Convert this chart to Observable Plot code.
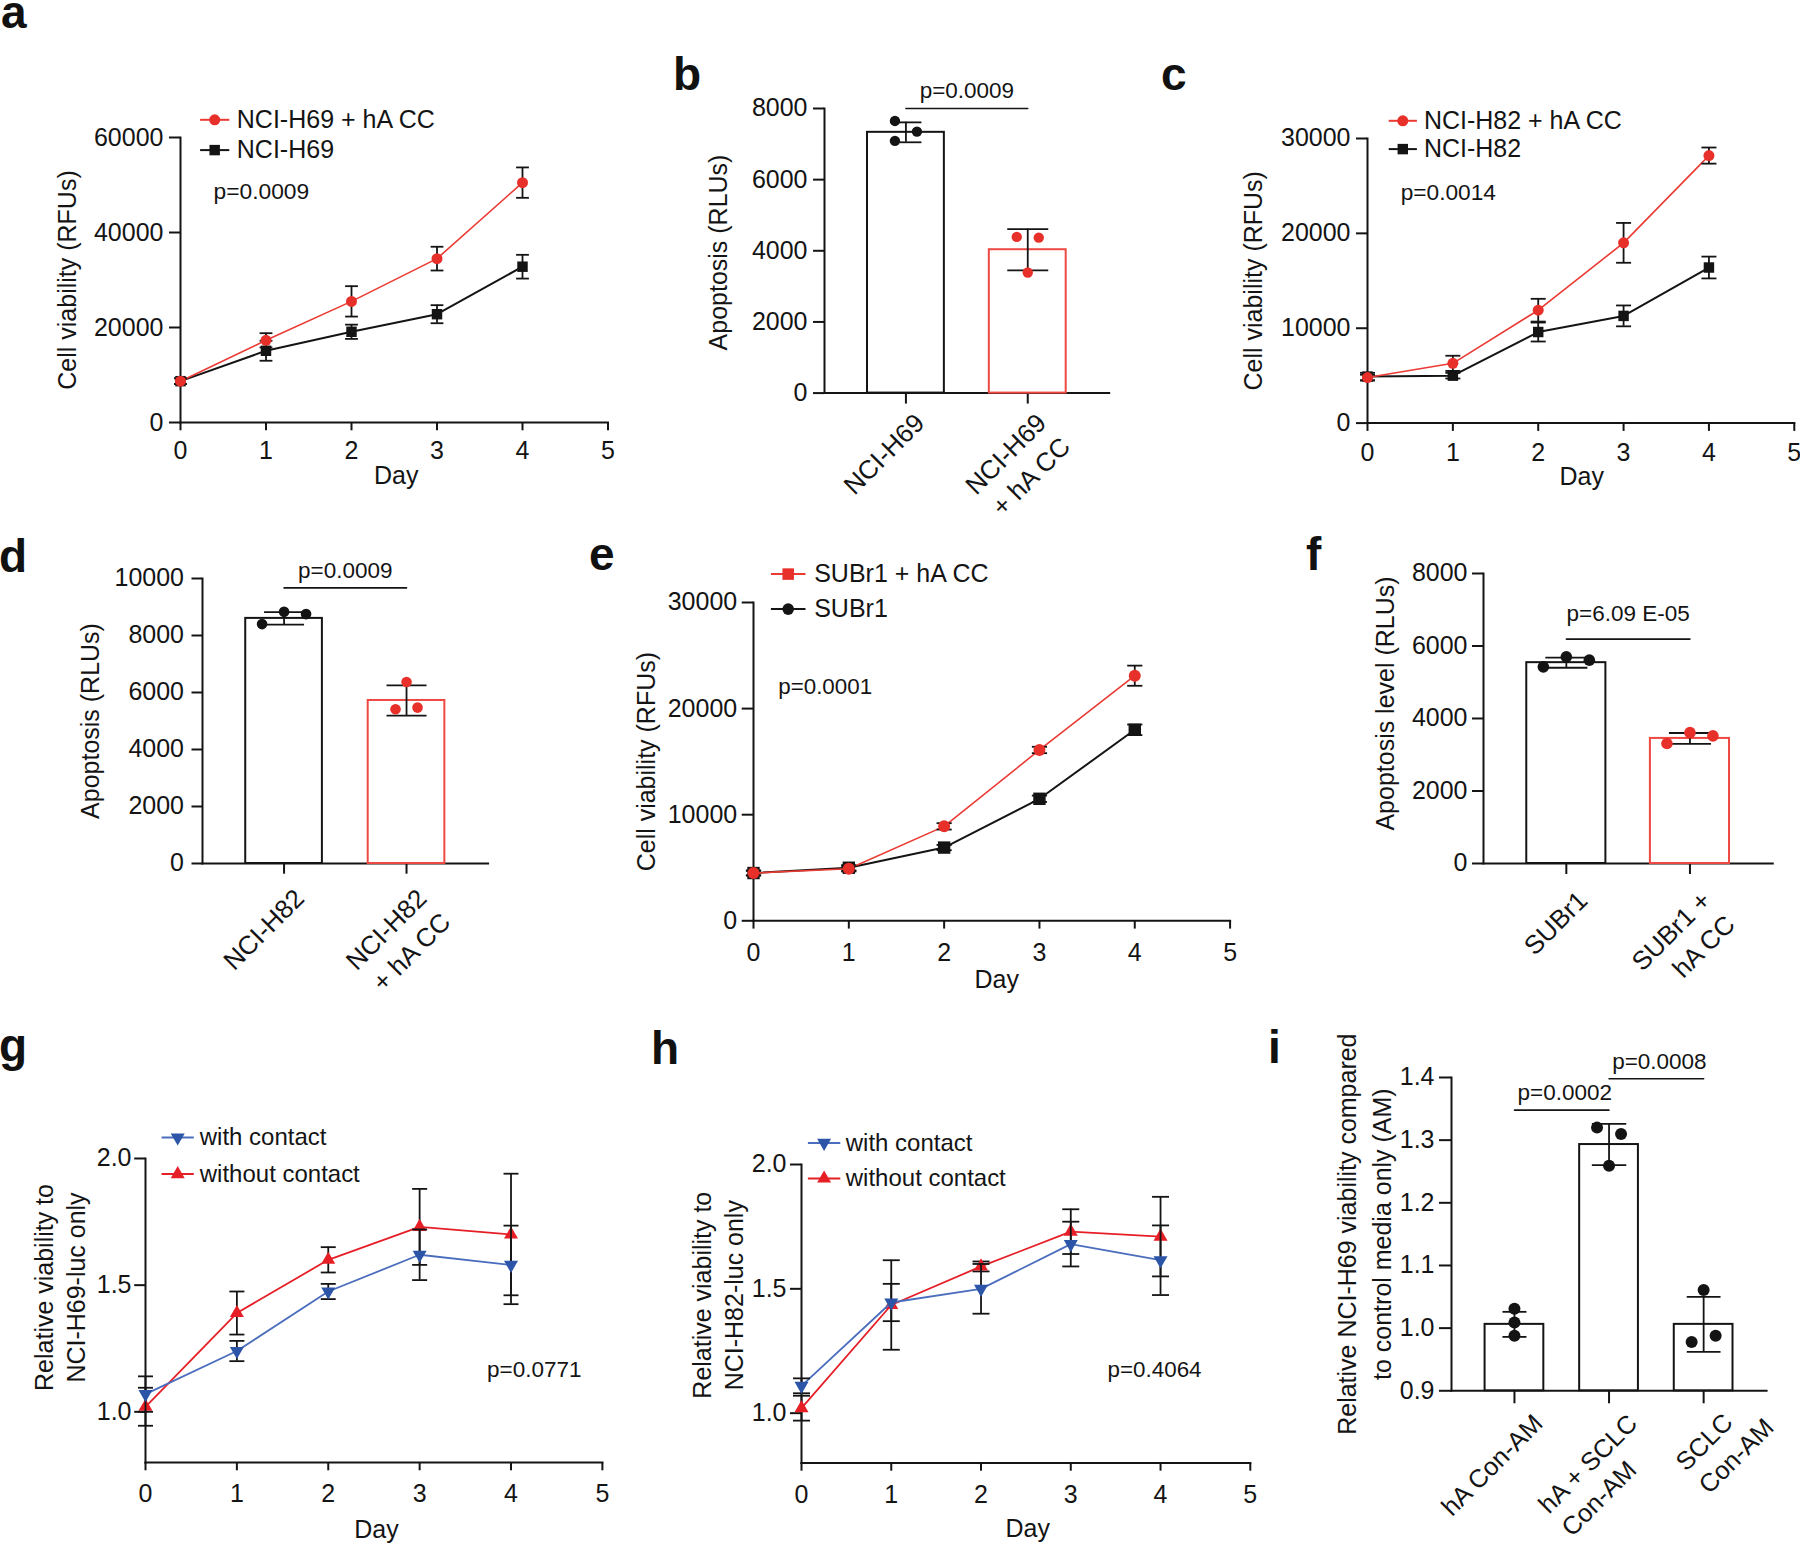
<!DOCTYPE html>
<html>
<head>
<meta charset="utf-8">
<script src="https://cdn.jsdelivr.net/npm/d3@7"></script>
<script src="https://cdn.jsdelivr.net/npm/@observablehq/plot@0.6"></script>
<style>
  html, body { margin: 0; padding: 0; background: #fff; }
  #fig { position: relative; width: 1800px; height: 1544px; overflow: hidden; background: #fff; }
  #fig svg { position: absolute; overflow: visible; max-width: none; }
  .plabel { position: absolute; font: bold 46px "Liberation Sans", Arial, sans-serif; line-height: 24px; color: #111; }
</style>
</head>
<body>
<div id="fig"></div>
<script>
// ================= DATA =================
const days = [0, 1, 2, 3, 4];
const dayTicks = [0, 1, 2, 3, 4, 5];
const dayLabel = "Day";

// ---- panel a ----
const aNames = ["NCI-H69 + hA CC", "NCI-H69"];
const aRed = [8700, 17300, 25500, 34500, 50500];
const aRedSD = [600, 1500, 3200, 2500, 3200];
const aBlack = [8700, 15100, 19100, 22800, 32800];
const aBlackSD = [600, 2100, 1500, 1900, 2500];
const aYTicks = [0, 20000, 40000, 60000];
const aP = "p=0.0009";
const aYLabel = "Cell viability (RFUs)";

// ---- panel b ----
const bCats = ["NCI-H69", "NCI-H69 + hA CC"];
const bTickLabels = ["NCI-H69", "NCI-H69\n+ hA CC"];
const bMeans = [7330, 4030];
const bSD = [280, 580];
const bPoints = [[7650, 7350, 7090], [4390, 4370, 3390]];
const bYTicks = [0, 2000, 4000, 6000, 8000];
const bP = "p=0.0009";
const bPy = 8000;
const bYLabel = "Apoptosis (RLUs)";

// ---- panel c ----
const cNames = ["NCI-H82 + hA CC", "NCI-H82"];
const cRed = [4800, 6300, 11900, 19000, 28200];
const cRedSD = [300, 800, 1200, 2100, 850];
const cBlack = [4900, 5000, 9600, 11300, 16400];
const cBlackSD = [400, 300, 1000, 1100, 1150];
const cYTicks = [0, 10000, 20000, 30000];
const cP = "p=0.0014";
const cYLabel = "Cell viability (RFUs)";

// ---- panel d ----
const dCats = ["NCI-H82", "NCI-H82 + hA CC"];
const dTickLabels = ["NCI-H82", "NCI-H82\n+ hA CC"];
const dMeans = [8600, 5720];
const dSD = [220, 530];
const dPoints = [[8400, 8830, 8750], [6370, 5410, 5470]];
const dYTicks = [0, 2000, 4000, 6000, 8000, 10000];
const dP = "p=0.0009";
const dPy = 9670;
const dYLabel = "Apoptosis (RLUs)";

// ---- panel e ----
const eNames = ["SUBr1 + hA CC", "SUBr1"];
const eRed = [4500, 4900, 8900, 16100, 23100];
const eRedSD = [200, 250, 300, 300, 950];
const eBlack = [4500, 5000, 6900, 11500, 18000];
const eBlackSD = [250, 250, 250, 300, 500];
const eYTicks = [0, 10000, 20000, 30000];
const eP = "p=0.0001";
const eYLabel = "Cell viability (RFUs)";

// ---- panel f ----
const fCats = ["SUBr1", "SUBr1 + hA CC"];
const fTickLabels = ["SUBr1", "SUBr1 +\nhA CC"];
const fMeans = [5540, 3450];
const fSD = [140, 150];
const fPoints = [[5425, 5700, 5610], [3310, 3610, 3520]];
const fYTicks = [0, 2000, 4000, 6000, 8000];
const fP = "p=6.09 E-05";
const fPy = 6190;
const fYLabel = "Apoptosis level (RLUs)";

// ---- panel g ----
const gNames = ["with contact", "without contact"];
const gWith = [1.07, 1.24, 1.475, 1.62, 1.58];
const gWithSD = [0.07, 0.04, 0.03, 0.10, 0.155];
const gWithout = [1.02, 1.39, 1.60, 1.73, 1.70];
const gWithoutSD = [0.075, 0.085, 0.05, 0.15, 0.24];
const gYTicks = [1.0, 1.5, 2.0];
const gP = "p=0.0771";
const gYLabel = "Relative viability to\nNCI-H69-luc only";

// ---- panel h ----
const hNames = ["with contact", "without contact"];
const hWith = [1.11, 1.445, 1.50, 1.68, 1.615];
const hWithSD = [0.03, 0.075, 0.10, 0.09, 0.14];
const hWithout = [1.02, 1.435, 1.59, 1.73, 1.71];
const hWithoutSD = [0.05, 0.18, 0.02, 0.09, 0.16];
const hYTicks = [1.0, 1.5, 2.0];
const hP = "p=0.4064";
const hYLabel = "Relative viability to\nNCI-H82-luc only";

// ---- panel i ----
const iCats = ["hA Con-AM", "hA + SCLC Con-AM", "SCLC Con-AM"];
const iTickLabels = ["hA Con-AM", "hA + SCLC\nCon-AM", "SCLC\nCon-AM"];
const iMeans = [1.006, 1.293, 1.006];
const iSD = [0.02, 0.033, 0.044];
const iPoints = [[1.031, 1.009, 0.988], [1.320, 1.310, 1.259], [1.061, 0.978, 0.988]];
const iYTicks = [0.9, 1.0, 1.1, 1.2, 1.3, 1.4];
const iBrackets = [
  {from: 0, to: 1, y: 1.348, text: "p=0.0002"},
  {from: 1, to: 2, y: 1.398, text: "p=0.0008"}
];
const iYLabel = "Relative NCI-H69 viability compared\nto control media only (AM)";

const panelLetters = ["a", "b", "c", "d", "e", "f", "g", "h", "i"];

// ================= STYLE / HELPERS =================
const fig = document.getElementById("fig");
const FONT = '"Liberation Sans", Arial, Helvetica, sans-serif';
function textWidth(str, fs, family) {
  const ctx = document.createElement("canvas").getContext("2d");
  ctx.font = `${fs}px ${family}`;
  return ctx.measureText(str).width;
}

const BLACK = "#141414";
const RED = "#e8302a";
const RED_LINE = "#ea3a33";
const RED_BAR = "#ee4842";
const BLUE = "#2c55a8";
const BLUE_LINE = "#4a6dbd";
const RED2 = "#e61f27";

const hline = {draw(ctx, size) { const w = Math.sqrt(size / Math.PI); ctx.moveTo(-w, 0); ctx.lineTo(w, 0); }};

const PAD = {l: 175, r: 60, t: 110, b: 150};
function mount(F, marks, opts, fontSize) {
  const plot = Plot.plot({
    width: F.R - F.L + PAD.l + PAD.r,
    height: F.B - F.T + PAD.t + PAD.b,
    marginLeft: PAD.l, marginRight: PAD.r, marginTop: PAD.t, marginBottom: PAD.b,
    style: {fontFamily: FONT, fontSize: fontSize + "px", background: "transparent", overflow: "visible", color: BLACK},
    ...opts,
    marks
  });
  plot.style.position = "absolute";
  plot.style.left = (F.L - PAD.l) + "px";
  plot.style.top = (F.T - PAD.t) + "px";
  fig.appendChild(plot);
}

function legendMarks(L) {
  const marks = [];
  L.items.forEach((it, i) => {
    const dy = L.y0 + i * L.gap;
    marks.push(Plot.dot([it], {frameAnchor: "top-left", dx: L.x0, dy, symbol: hline, r: L.half, stroke: it.line, fill: "none", strokeWidth: 2}));
    marks.push(Plot.dot([it], {frameAnchor: "top-left", dx: L.x0, dy, symbol: it.symbol, r: it.r, fill: it.color, stroke: "none", rotate: it.rotate || 0}));
    marks.push(Plot.text([it], {frameAnchor: "top-left", dx: L.x0 + L.half + L.textGap, dy, text: d => d.label, textAnchor: "start", lineAnchor: "middle", fontSize: L.fs}));
  });
  return marks;
}

function linePanel(P) {
  const marks = [
    Plot.frame({anchor: "left", strokeWidth: 2}),
    Plot.frame({anchor: "bottom", strokeWidth: 2}),
    Plot.axisY({ticks: P.yTicks, tickFormat: P.yFormat, tickSize: P.yTick[0], tickPadding: P.yTick[1], label: null, strokeWidth: 2}),
    Plot.axisX({ticks: dayTicks, tickFormat: "d", tickSize: 8.3, tickPadding: P.xPad, label: null, strokeWidth: 2})
  ];
  for (const s of P.series) {
    const rows = days.map((d, i) => ({day: d, v: s.values[i], lo: s.values[i] - s.sd[i], hi: s.values[i] + s.sd[i]}));
    marks.push(
      Plot.line(rows, {x: "day", y: "v", stroke: s.line, strokeWidth: s.lw}),
      Plot.ruleX(rows, {x: "day", y1: "lo", y2: "hi", stroke: BLACK, strokeWidth: 1.8}),
      Plot.dot(rows, {x: "day", y: "lo", symbol: hline, r: P.capHalf, stroke: BLACK, fill: "none", strokeWidth: 1.8}),
      Plot.dot(rows, {x: "day", y: "hi", symbol: hline, r: P.capHalf, stroke: BLACK, fill: "none", strokeWidth: 1.8}),
      Plot.dot(rows, {x: "day", y: "v", symbol: s.symbol, r: s.r, fill: s.color, stroke: "none", rotate: s.rotate || 0})
    );
  }
  marks.push(...legendMarks(P.legend));
  marks.push(Plot.text([P.p.text], {frameAnchor: "top-left", dx: P.p.dx, dy: P.p.dy, text: d => d, textAnchor: "start", lineAnchor: "middle", fontSize: P.p.fs}));
  marks.push(Plot.text([P.title.text], {frameAnchor: "left", dx: P.title.dx, dy: P.title.dy, text: d => d, rotate: -90, textAnchor: "middle", lineAnchor: "middle", fontSize: 25, lineHeight: P.title.lh || 1.1}));
  marks.push(Plot.text([dayLabel], {frameAnchor: "bottom", dx: P.day.dx, dy: P.day.dy, text: d => d, textAnchor: "middle", lineAnchor: "top", fontSize: 25}));
  mount(P.F, marks, {x: {domain: [0, 5]}, y: {domain: P.yDomain}}, 25);
}

function bandCenters(P) {
  const W = P.F.R - P.F.L, n = P.cats.length;
  const step = W / Math.max(1, n - P.pI + 2 * P.pO);
  const bw = step * (1 - P.pI);
  const off = (W - step * (n - P.pI)) * 0.5;
  return P.cats.map((_, i) => off + step * i + bw / 2);
}

function barPanel(P) {
  const centers = bandCenters(P);
  const marks = [
    Plot.frame({anchor: "left", strokeWidth: 2}),
    Plot.frame({anchor: "bottom", strokeWidth: 2}),
    Plot.axisY({ticks: P.yTicks, tickFormat: P.yFormat, tickSize: P.yTick[0], tickPadding: P.yTick[1], label: null, strokeWidth: 2}),
    Plot.axisX({tickSize: P.xTick, tickFormat: () => "", label: null, strokeWidth: 2})
  ];
  P.cats.forEach((c, i) => {
    const m = P.means[i], s = P.sd[i];
    const bar = [{cat: c, base: P.yDomain[0], mean: m, lo: m - s, hi: m + s}];
    marks.push(
      Plot.barY(bar, {x: "cat", y1: "base", y2: "mean", fill: "white", stroke: P.barStroke[i], strokeWidth: 2}),
      Plot.ruleX(bar, {x: "cat", y1: "lo", y2: "hi", stroke: BLACK, strokeWidth: 1.8}),
      Plot.dot(bar, {x: "cat", y: "lo", symbol: hline, r: P.capHalf[i], stroke: BLACK, fill: "none", strokeWidth: 1.8}),
      Plot.dot(bar, {x: "cat", y: "hi", symbol: hline, r: P.capHalf[i], stroke: BLACK, fill: "none", strokeWidth: 1.8})
    );
    const pts = P.points[i].map((v, k) => ({cat: c, v, off: P.jitter[i][k]}));
    for (const off of new Set(pts.map(p => p.off))) {
      marks.push(Plot.dot(pts.filter(p => p.off === off), {x: "cat", y: "v", dx: off, r: P.r, fill: P.pointFill[i], stroke: "none"}));
    }
  });
  for (const b of P.brackets) {
    const seg = [{cat: P.cats[b.from], y: b.y}, {cat: P.cats[b.to], y: b.y}];
    marks.push(Plot.line(seg, {x: "cat", y: "y", stroke: BLACK, strokeWidth: 1.6}));
    marks.push(Plot.text([b], {frameAnchor: "left", y: "y", dx: (centers[b.from] + centers[b.to]) / 2 + (P.pDx || 0), dy: P.pDy, text: "text", textAnchor: "middle", lineAnchor: "middle", fontSize: 22.5}));
  }
  const lab = P.cats.map((c, i) => ({cat: c, label: P.tickLabels[i]}));
  if (P.labAlign === "start") {
    lab.forEach(d => {
      const w = textWidth(d.label.split("\n")[0], P.labFs, FONT);
      marks.push(Plot.text([d], {x: "cat", frameAnchor: "bottom", text: "label", rotate: -45, textAnchor: "start", lineAnchor: "top", lineHeight: P.labLH, fontSize: P.labFs, dx: P.labDx - w * Math.SQRT1_2, dy: P.labDy + w * Math.SQRT1_2}));
    });
  } else {
    marks.push(Plot.text(lab, {x: "cat", frameAnchor: "bottom", text: "label", rotate: -45, textAnchor: "end", lineAnchor: "top", lineHeight: P.labLH, fontSize: P.labFs, dx: P.labDx, dy: P.labDy}));
  }
  marks.push(Plot.text([P.title.text], {frameAnchor: "left", dx: P.title.dx, dy: P.title.dy, text: d => d, rotate: -90, textAnchor: "middle", lineAnchor: "middle", fontSize: 25, lineHeight: P.title.lh || 1.1}));
  mount(P.F, marks, {
    x: {type: "band", domain: P.cats, paddingInner: P.pI, paddingOuter: P.pO, align: 0.5, round: false},
    y: {domain: P.yDomain}
  }, P.tickFs);
}

// ================= PANELS =================
linePanel({
  F: {L: 180, R: 607.5, T: 136.7, B: 421.7},
  yDomain: [0, 60000], yTicks: aYTicks, yFormat: "d", yTick: [11, 6], xPad: 10.3, capHalf: 6.4,
  series: [
    {values: aBlack, sd: aBlackSD, color: BLACK, line: BLACK, lw: 2, symbol: "square", r: 5.9},
    {values: aRed, sd: aRedSD, color: RED, line: RED_LINE, lw: 1.6, symbol: "circle", r: 5.5}
  ],
  legend: {items: [
    {label: aNames[0], color: RED, line: RED_LINE, symbol: "circle", r: 5.5},
    {label: aNames[1], color: BLACK, line: BLACK, symbol: "square", r: 5.9}
  ], x0: 34.2, y0: -17.7, gap: 30.3, half: 14.6, textGap: 7.5, fs: 25},
  p: {text: aP, dx: 33, dy: 54.6, fs: 22.8},
  title: {text: aYLabel, dx: -113.7, dy: 0},
  day: {dx: 2, dy: 43.3}
});

barPanel({
  F: {L: 824.3, R: 1109, T: 107.7, B: 392.3},
  cats: bCats, tickLabels: bTickLabels, means: bMeans, sd: bSD, points: bPoints,
  yDomain: [0, 8000], yTicks: bYTicks, yFormat: "d", yTick: [11, 6], xTick: 11, tickFs: 25,
  pI: 0.369, pO: 0.353,
  barStroke: [BLACK, RED_BAR], pointFill: [BLACK, RED],
  jitter: [[-11, 11, -11], [-11, 11, 0]], capHalf: [15.5, 20.5], r: 5.2,
  brackets: [{from: 0, to: 1, y: bPy, text: bP}], pDy: -17.3,
  title: {text: bYLabel, dx: -106.3, dy: 1.7},
  labAlign: "end", labFs: 26, labLH: 1.3, labDx: 3.1, labDy: 14.4
});

linePanel({
  F: {L: 1366.5, R: 1793.3, T: 137.7, B: 422.3},
  yDomain: [0, 30000], yTicks: cYTicks, yFormat: "d", yTick: [11, 6], xPad: 11.4, capHalf: 7.5,
  series: [
    {values: cBlack, sd: cBlackSD, color: BLACK, line: BLACK, lw: 2, symbol: "square", r: 5.9},
    {values: cRed, sd: cRedSD, color: RED, line: RED_LINE, lw: 1.6, symbol: "circle", r: 5.5}
  ],
  legend: {items: [
    {label: cNames[0], color: RED, line: RED_LINE, symbol: "circle", r: 5.5},
    {label: cNames[1], color: BLACK, line: BLACK, symbol: "square", r: 5.9}
  ], x0: 35.3, y0: -17.7, gap: 28.3, half: 14.1, textGap: 7, fs: 25},
  p: {text: cP, dx: 33.2, dy: 54.6, fs: 22.7},
  title: {text: cYLabel, dx: -113.9, dy: 0},
  day: {dx: 0.8, dy: 44.4}
});

barPanel({
  F: {L: 201.7, R: 487.3, T: 578.3, B: 863.3},
  cats: dCats, tickLabels: dTickLabels, means: dMeans, sd: dSD, points: dPoints,
  yDomain: [0, 10000], yTicks: dYTicks, yFormat: "d", yTick: [10.5, 8], xTick: 10.7, tickFs: 25,
  pI: 0.374, pO: 0.353,
  barStroke: [BLACK, RED_BAR], pointFill: [BLACK, RED],
  jitter: [[-22, 0, 22], [0, -11, 11]], capHalf: [20, 20], r: 5.3,
  brackets: [{from: 0, to: 1, y: dPy, text: dP}], pDy: -17.4,
  title: {text: dYLabel, dx: -112.5, dy: 0},
  labAlign: "end", labFs: 26, labLH: 1.3, labDx: 4.7, labDy: 19.5
});

linePanel({
  F: {L: 752.6, R: 1229.2, T: 601.7, B: 920},
  yDomain: [0, 30000], yTicks: eYTicks, yFormat: "d", yTick: [11.3, 5], xPad: 13.7, capHalf: 7.6,
  series: [
    {values: eBlack, sd: eBlackSD, color: BLACK, line: BLACK, lw: 2, symbol: "square", r: 7},
    {values: eRed, sd: eRedSD, color: RED, line: RED_LINE, lw: 1.6, symbol: "circle", r: 6}
  ],
  legend: {items: [
    {label: eNames[0], color: RED, line: RED_LINE, symbol: "square", r: 6.5},
    {label: eNames[1], color: BLACK, line: BLACK, symbol: "circle", r: 5.8}
  ], x0: 34.7, y0: -28.4, gap: 35, half: 17.3, textGap: 8.7, fs: 25},
  p: {text: eP, dx: 24.7, dy: 84.1, fs: 22.4},
  title: {text: eYLabel, dx: -107.6, dy: 0},
  day: {dx: 5, dy: 49.3}
});

barPanel({
  F: {L: 1482.7, R: 1772, T: 573.3, B: 863.3},
  cats: fCats, tickLabels: fTickLabels, means: fMeans, sd: fSD, points: fPoints,
  yDomain: [0, 8000], yTicks: fYTicks, yFormat: "d", yTick: [11, 5], xTick: 11, tickFs: 25,
  pI: 0.36, pO: 0.35,
  barStroke: [BLACK, RED_BAR], pointFill: [BLACK, RED],
  jitter: [[-23, 0, 23], [-23, 0, 23]], capHalf: [21, 21], r: 5.8,
  brackets: [{from: 0, to: 1, y: fPy, text: fP}], pDy: -25.3,
  title: {text: fYLabel, dx: -98, dy: -15},
  labAlign: "end", labFs: 26, labLH: 1.3, labDx: 5.6, labDy: 21.8
});

linePanel({
  F: {L: 144.6, R: 601.5, T: 1157.7, B: 1461.7},
  yDomain: [0.8, 2.0], yTicks: gYTicks, yFormat: ".1f", yTick: [10.8, 3.2], xPad: 13.6, capHalf: 7.5,
  series: [
    {values: gWithout, sd: gWithoutSD, color: RED2, line: RED2, lw: 1.8, symbol: "triangle", r: 5.2},
    {values: gWith, sd: gWithSD, color: BLUE, line: BLUE_LINE, lw: 1.8, symbol: "triangle", r: 5.2, rotate: 180}
  ],
  legend: {items: [
    {label: gNames[0], color: BLUE, line: BLUE_LINE, symbol: "triangle", r: 5.2, rotate: 180},
    {label: gNames[1], color: RED2, line: RED2, symbol: "triangle", r: 5.2}
  ], x0: 32.2, y0: -21, gap: 36.6, half: 16.1, textGap: 6, fs: 24},
  p: {text: gP, dx: 341.6, dy: 211.8, fs: 22.5},
  title: {text: gYLabel, dx: -86.7, dy: -23, lh: 1.28},
  day: {dx: 2.6, dy: 57.3}
});

linePanel({
  F: {L: 801.4, R: 1250.2, T: 1164.3, B: 1462.7},
  yDomain: [0.8, 2.0], yTicks: hYTicks, yFormat: ".1f", yTick: [11, 4], xPad: 14.3, capHalf: 8.5,
  series: [
    {values: hWithout, sd: hWithoutSD, color: RED2, line: RED2, lw: 1.8, symbol: "triangle", r: 5.2},
    {values: hWith, sd: hWithSD, color: BLUE, line: BLUE_LINE, lw: 1.8, symbol: "triangle", r: 5.2, rotate: 180}
  ],
  legend: {items: [
    {label: hNames[0], color: BLUE, line: BLUE_LINE, symbol: "triangle", r: 5.2, rotate: 180},
    {label: hNames[1], color: RED2, line: RED2, symbol: "triangle", r: 5.2}
  ], x0: 22.6, y0: -21.6, gap: 35.6, half: 16.2, textGap: 5.5, fs: 24},
  p: {text: hP, dx: 306.1, dy: 205.2, fs: 22.4},
  title: {text: hYLabel, dx: -85.2, dy: -18.5, lh: 1.28},
  day: {dx: 1.8, dy: 56.3}
});

barPanel({
  F: {L: 1451.1, R: 1766.2, T: 1076.7, B: 1390},
  cats: iCats, tickLabels: iTickLabels, means: iMeans, sd: iSD, points: iPoints,
  yDomain: [0.9, 1.4], yTicks: iYTicks, yFormat: ".1f", yTick: [12, 5], xTick: 13, tickFs: 25,
  pI: 0.379, pO: 0.355,
  barStroke: [BLACK, BLACK, BLACK], pointFill: [BLACK, BLACK, BLACK],
  jitter: [[0, 0, 0], [-12, 12, 0], [0, -12, 12]], capHalf: [12, 17.2, 16.9], r: 6,
  brackets: iBrackets, pDy: -17.3, pDx: 3,
  title: {text: iYLabel, dx: -89.1, dy: 0, lh: 1.38},
  labAlign: "start", labFs: 25.5, labLH: 1.27, labDx: 14.5, labDy: 17
});

// ================= PANEL LETTERS =================
// line-height 24px => baseline sits 27.9px below the box top for a 46px Liberation Sans Bold glyph
const letterPos = [[1, 28], [673, 90], [1161, 90], [-1, 571.7], [589, 570], [1306, 570], [-1, 1061], [651, 1064], [1268, 1063]];
panelLetters.forEach((t, k) => {
  const d = document.createElement("div");
  d.className = "plabel";
  d.textContent = t;
  d.style.left = letterPos[k][0] + "px";
  d.style.top = (letterPos[k][1] - 27.93) + "px";
  fig.appendChild(d);
});
</script>
</body>
</html>
